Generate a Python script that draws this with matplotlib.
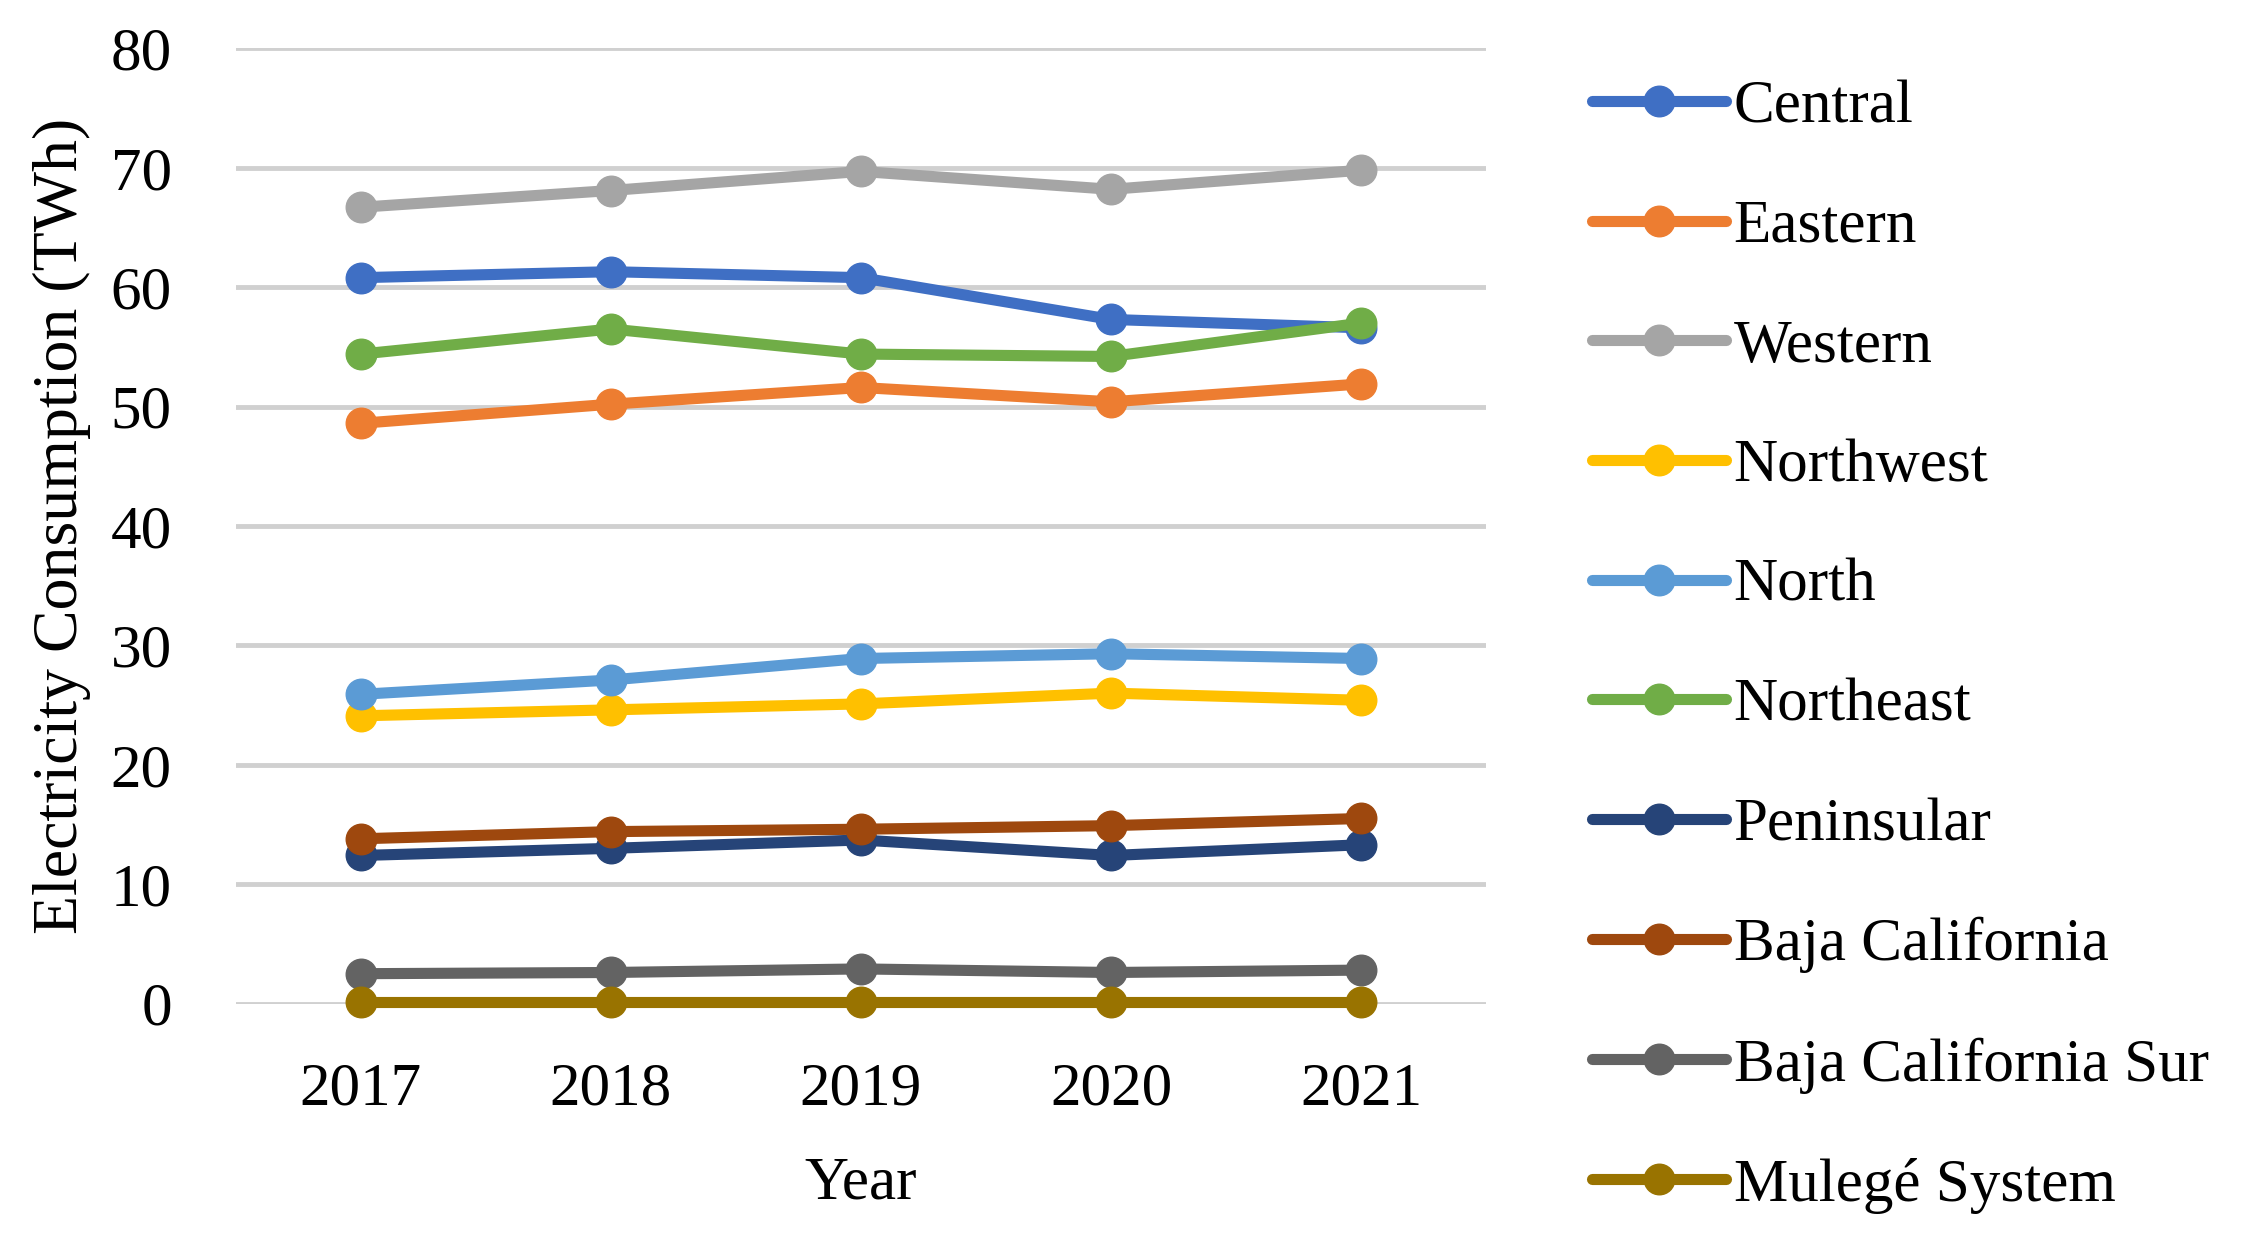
import matplotlib.pyplot as plt
import numpy as np

years = ['2017', '2018', '2019', '2020', '2021']

central = [60.8, 61.3, 60.8, 57.3, 56.6]
eastern = [48.6, 50.2, 51.6, 50.4, 51.9]
western = [66.7, 68.1, 69.7, 68.2, 69.8]
northwest = [24.1, 24.6, 25.1, 26.0, 25.4]
north = [25.9, 27.1, 28.9, 29.3, 28.9]
northeast = [54.4, 56.5, 54.4, 54.2, 57.0]
peninsular = [12.4, 13.0, 13.7, 12.4, 13.3]
baja_california = [13.8, 14.4, 14.6, 14.9, 15.5]
baja_california_sur = [2.5, 2.6, 2.9, 2.6, 2.8]
mulege = [0.1, 0.1, 0.1, 0.1, 0.1]

series = [
    ('Central', central, '#3F6FC4'),
    ('Eastern', eastern, '#ED7D31'),
    ('Western', western, '#A5A5A5'),
    ('Northwest', northwest, '#FFC000'),
    ('North', north, '#5B9BD5'),
    ('Northeast', northeast, '#70AD47'),
    ('Peninsular', peninsular, '#264478'),
    ('Baja California', baja_california, '#9E480E'),
    ('Baja California Sur', baja_california_sur, '#636363'),
    ('Mulegé System', mulege, '#997300'),
]

plt.rcParams['font.family'] = ['Liberation Serif', 'DejaVu Serif']

fig = plt.figure(figsize=(22.45, 12.42), dpi=100)
ax = fig.add_axes([0.105, 0.192, 0.557, 0.769])

x = np.arange(len(years))
for name, vals, col in series:
    ax.plot(x, vals, '-o', color=col, lw=8, ms=22, mec=col, mfc=col,
            label=name, solid_capstyle='round', clip_on=False)

ax.set_xlim(-0.5, 4.5)
ax.set_ylim(0, 80)
ax.set_yticks(range(0, 81, 10))
ax.set_xticks(x)
ax.set_xticklabels(years)
ax.grid(axis='y', color='#D0D0D0', lw=3.5)
ax.set_axisbelow(True)
for s in ax.spines.values():
    s.set_visible(False)
ax.tick_params(length=0, labelsize=44, pad=42)
ax.tick_params(axis='y', pad=46)
ax.set_xlabel('Year', fontsize=44, labelpad=28)
ax.set_ylabel('Electricity Consumption (TWh)', fontsize=46, labelpad=14)

ax.legend(loc='upper left', bbox_to_anchor=(1.065, 0.993), frameon=False,
          fontsize=44, handlelength=2.2, handletextpad=0.12,
          labelspacing=1.045, borderaxespad=0)

fig.savefig('out.png', dpi=100)
